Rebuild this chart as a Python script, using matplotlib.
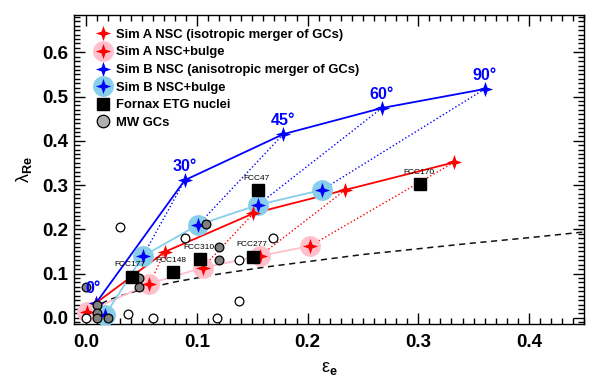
import numpy as np
import matplotlib
matplotlib.use('Agg')
import matplotlib.pyplot as plt
from matplotlib.path import Path
from matplotlib.lines import Line2D
from matplotlib.legend_handler import HandlerTuple

plt.rcParams['font.family'] = ['Liberation Sans', 'DejaVu Sans']
plt.rcParams['mathtext.fontset'] = 'custom'
plt.rcParams['mathtext.rm'] = 'Liberation Sans'
plt.rcParams['mathtext.it'] = 'Liberation Sans'
plt.rcParams['mathtext.bf'] = 'Liberation Sans:bold'

# inclination angles of the simulations
angles = ['0°', '30°', '45°', '60°', '90°']

# Sim A (isotropic merger of GCs)
simA_nsc_eps = [0.009, 0.071, 0.151, 0.234, 0.332]
simA_nsc_lam = [0.034, 0.149, 0.236, 0.289, 0.351]
simA_blg_eps = [0.001, 0.057, 0.105, 0.157, 0.202]
simA_blg_lam = [0.014, 0.077, 0.113, 0.140, 0.162]

# Sim B (anisotropic merger of GCs)
simB_nsc_eps = [0.009, 0.089, 0.178, 0.267, 0.360]
simB_nsc_lam = [0.034, 0.311, 0.415, 0.474, 0.517]
simB_blg_eps = [0.017, 0.051, 0.101, 0.155, 0.213]
simB_blg_lam = [0.006, 0.139, 0.210, 0.255, 0.289]

# Fornax ETG nuclei
fcc_names = ['FCC177', 'FCC148', 'FCC310', 'FCC277', 'FCC47', 'FCC170']
fcc_eps = [0.041, 0.078, 0.103, 0.151, 0.155, 0.302]
fcc_lam = [0.093, 0.103, 0.133, 0.138, 0.289, 0.302]

# MW globular clusters (filled / open)
mw_fill_eps = [0.000, 0.010, 0.010, 0.010, 0.020, 0.048, 0.048, 0.108, 0.120, 0.120]
mw_fill_lam = [0.070, 0.030, 0.010, 0.000, 0.000, 0.090, 0.070, 0.212, 0.160, 0.130]
mw_open_eps = [0.000, 0.038, 0.060, 0.118, 0.030, 0.089, 0.138, 0.138, 0.169]
mw_open_lam = [0.000, 0.008, 0.000, 0.000, 0.205, 0.180, 0.130, 0.037, 0.180]

# dashed division line
div_eps = [0.0, 0.005, 0.01, 0.02, 0.03, 0.05, 0.08, 0.12, 0.16, 0.20, 0.25, 0.30, 0.35, 0.40, 0.45]
div_lam = [0.0, 0.020, 0.028, 0.040, 0.049, 0.064, 0.081, 0.099, 0.114, 0.127, 0.143, 0.156, 0.169, 0.181, 0.194]

# 4 pointed star marker
star_v = []
for i in range(8):
    a = np.pi/2 + i*np.pi/4
    r = 1.0 if i % 2 == 0 else 0.36
    star_v.append((r*np.cos(a), r*np.sin(a)))
star_v.append(star_v[0])
star = Path(star_v, [Path.MOVETO] + [Path.LINETO]*7 + [Path.CLOSEPOLY])

red = '#ff0000'
blue = '#0000ff'
pink = '#ffc0cb'
sky = '#87ceeb'
sms = 11     # star size
cms = 15     # halo size

fig = plt.figure(figsize=(5.98, 3.88), dpi=100)
ax = fig.add_axes([0.124, 0.165, 0.853, 0.796])

ax.plot(div_eps, div_lam, '--', color='#111111', lw=1.1, dashes=(4, 3), zorder=1)

# dotted connectors NSC -> NSC+bulge
for i in range(1, len(angles)):
    ax.plot([simA_nsc_eps[i], simA_blg_eps[i]], [simA_nsc_lam[i], simA_blg_lam[i]],
            ':', color=red, lw=1.0, zorder=2)
    ax.plot([simB_nsc_eps[i], simB_blg_eps[i]], [simB_nsc_lam[i], simB_blg_lam[i]],
            ':', color=blue, lw=1.0, zorder=2)

ax.plot(simA_blg_eps, simA_blg_lam, '-', color=pink, lw=1.3, zorder=2)
ax.plot(simB_blg_eps, simB_blg_lam, '-', color=sky, lw=1.3, zorder=2)
ax.plot(simA_nsc_eps, simA_nsc_lam, '-', color=red, lw=1.3, zorder=2)
ax.plot(simB_nsc_eps, simB_nsc_lam, '-', color=blue, lw=1.3, zorder=2)

ax.plot(simA_blg_eps, simA_blg_lam, 'o', color=pink, ms=cms, mew=0, ls='none', zorder=3)
ax.plot(simB_blg_eps, simB_blg_lam, 'o', color=sky, ms=cms, mew=0, ls='none', zorder=3)
ax.plot(simA_blg_eps, simA_blg_lam, marker=star, color=red, ms=sms, mew=0, ls='none', zorder=4)
ax.plot(simB_blg_eps, simB_blg_lam, marker=star, color=blue, ms=sms, mew=0, ls='none', zorder=4)
ax.plot(simA_nsc_eps, simA_nsc_lam, marker=star, color=red, ms=sms, mew=0, ls='none', zorder=4)
ax.plot(simB_nsc_eps, simB_nsc_lam, marker=star, color=blue, ms=sms, mew=0, ls='none', zorder=4)

for i in range(len(angles)):
    ax.annotate(angles[i], (simB_nsc_eps[i], simB_nsc_lam[i]), xytext=(-2 if i == 0 else 0, 4.5),
                textcoords='offset points', ha='center', va='bottom',
                color=blue, fontsize=11.5, fontweight='bold', zorder=6)

ax.plot(mw_open_eps, mw_open_lam, 'o', mfc='white', mec='black', ms=6.3, mew=0.9, ls='none', zorder=5)
ax.plot(mw_fill_eps, mw_fill_lam, 'o', mfc='#808080', mec='black', ms=6.3, mew=0.9, ls='none', zorder=5)

ax.plot(fcc_eps, fcc_lam, 's', color='black', ms=9, ls='none', zorder=6)
for i in range(len(fcc_names)):
    ax.annotate(fcc_names[i], (fcc_eps[i], fcc_lam[i]), xytext=(-1, 6),
                textcoords='offset points', ha='center', va='bottom',
                fontsize=6, color='black', zorder=7)

ax.set_xlim(-0.011, 0.45)
ax.set_ylim(-0.014, 0.684)
ax.set_xticks([0.0, 0.1, 0.2, 0.3, 0.4])
ax.set_yticks([0.0, 0.1, 0.2, 0.3, 0.4, 0.5, 0.6])
ax.set_xticks(np.arange(0, 0.451, 0.01), minor=True)
ax.set_yticks(np.arange(-0.01, 0.684, 0.01), minor=True)
ax.xaxis.set_major_formatter(matplotlib.ticker.FormatStrFormatter('%.1f'))
ax.yaxis.set_major_formatter(matplotlib.ticker.FormatStrFormatter('%.1f'))
ax.tick_params(which='both', direction='in', top=True, right=True, width=1)
ax.tick_params(which='major', length=8, labelsize=13.5)
ax.tick_params(which='minor', length=4)
ax.tick_params(axis='x', pad=7)
ax.tick_params(axis='y', pad=4)
for lab in ax.get_xticklabels() + ax.get_yticklabels():
    lab.set_fontweight('bold')
for s in ax.spines.values():
    s.set_linewidth(1.0)

ax.set_xlabel(r'$\mathrm{\varepsilon}_{\mathbf{e}}$', fontsize=13, labelpad=7)
ax.set_ylabel(r'$\lambda_{\mathbf{Re}}$', fontsize=13, labelpad=6)

h1 = Line2D([], [], marker=star, color=red, ms=sms, mew=0, ls='none')
h2c = Line2D([], [], marker='o', color=pink, ms=cms, mew=0, ls='none')
h3 = Line2D([], [], marker=star, color=blue, ms=sms, mew=0, ls='none')
h4c = Line2D([], [], marker='o', color=sky, ms=cms, mew=0, ls='none')
h5 = Line2D([], [], marker='s', color='black', ms=9, ls='none')
h6 = Line2D([], [], marker='o', mfc='#b0b0b0', mec='black', ms=9, mew=0.9, ls='none')
leg = ax.legend([h1, (h2c, h1), h3, (h4c, h3), h5, h6],
                ['Sim A NSC (isotropic merger of GCs)', 'Sim A NSC+bulge',
                 'Sim B NSC (anisotropic merger of GCs)', 'Sim B NSC+bulge',
                 'Fornax ETG nuclei', 'MW GCs'],
                handler_map={tuple: HandlerTuple(ndivide=1)},
                loc='upper left', bbox_to_anchor=(0.044, 0.956), frameon=False,
                prop={'weight': 'bold', 'size': 9.4}, handlelength=1.0,
                handletextpad=0.45, labelspacing=0.42, borderaxespad=0, borderpad=0)

fig.savefig('out.png', dpi=100)
